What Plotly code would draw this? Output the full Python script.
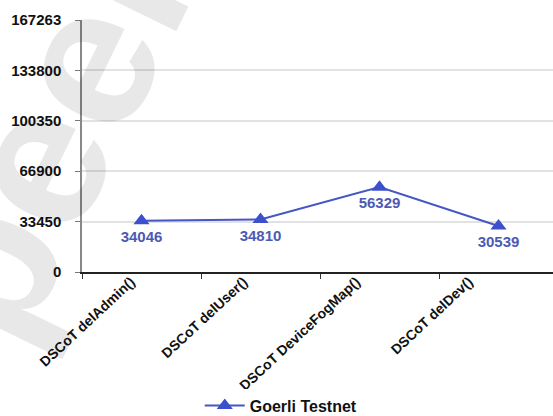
import plotly.graph_objects as go

# Gas used per DSCoT delete function on the Goerli test network
functions = ["DSCoT delAdmin()", "DSCoT delUser()", "DSCoT DeviceFogMap()", "DSCoT delDev()"]
gas_goerli = [34046, 34810, 56329, 30539]
series_name = "Goerli Testnet"

y_ticks = [0, 33450, 66900, 100350, 133800, 167263]
y_max = 167263

line_color = "#4656c4"
label_color = "#4c5ab6"
font_family = "Liberation Sans"

fig = go.Figure()
fig.add_trace(go.Scatter(
    x=functions,
    y=gas_goerli,
    mode="lines+markers+text",
    name=f"<b>{series_name}</b>",
    line=dict(color=line_color, width=2),
    marker=dict(symbol="triangle-up", size=14, color="#3c4fcc"),
    text=[f"<b>{v}</b>" for v in gas_goerli],
    textposition="bottom center",
    textfont=dict(family=font_family, size=15, color=label_color),
    cliponaxis=False,
))

# companion axis that carries the rotated category names (slightly tighter spacing)
fig.add_trace(go.Scatter(
    x=functions,
    y=gas_goerli,
    xaxis="x2",
    mode="markers",
    marker=dict(opacity=0),
    showlegend=False,
    hoverinfo="skip",
))

fig.update_layout(
    width=553,
    height=416,
    margin=dict(l=82, r=0, t=20, b=144, autoexpand=False),
    paper_bgcolor="white",
    plot_bgcolor="white",
    font=dict(family=font_family, color="#111"),
    showlegend=True,
    legend=dict(
        orientation="h",
        x=0.25, xanchor="left",
        y=-0.53, yanchor="middle",
        font=dict(family=font_family, size=16, color="#111"),
        itemwidth=40,
    ),
    xaxis=dict(
        type="category",
        range=[-0.5, 3.458],
        tickson="boundaries",
        showticklabels=False,
        ticks="outside",
        ticklen=5,
        tickcolor="#333",
        showline=True,
        linecolor="#222",
        linewidth=1.5,
        showgrid=False,
        automargin=False,
    ),
    xaxis2=dict(
        type="category",
        overlaying="x",
        side="bottom",
        anchor="y",
        range=[-0.435, 3.745],
        tickmode="array",
        tickvals=functions,
        ticktext=[f"<b>{f}</b>" for f in functions],
        ticks="",
        showline=False,
        showgrid=False,
        zeroline=False,
        automargin=False,
        tickangle=-43,
        ticklabelstandoff=-2,
        tickfont=dict(family=font_family, size=14, color="#111"),
    ),
    yaxis=dict(
        range=[0, y_max],
        tickmode="array",
        tickvals=y_ticks,
        ticktext=[f"<b>{v}</b>" for v in y_ticks],
        ticks="outside",
        ticklen=5,
        tickcolor="#777",
        showline=True,
        linecolor="#888",
        linewidth=1.5,
        showgrid=True,
        gridcolor="#e2e2e2",
        gridwidth=1.5,
        zeroline=False,
        automargin=False,
        ticklabelstandoff=11,
        tickfont=dict(family=font_family, size=15, color="#111"),
    ),
)

# light diagonal watermark across the left side
fig.add_annotation(
    text="<b>peer</b>",
    xref="paper", yref="paper",
    x=-0.07, y=0.55,
    xanchor="center", yanchor="middle",
    showarrow=False,
    textangle=-64,
    font=dict(family=font_family, size=200, color="rgba(0,0,0,0.09)"),
)

fig.write_html("out.html")
